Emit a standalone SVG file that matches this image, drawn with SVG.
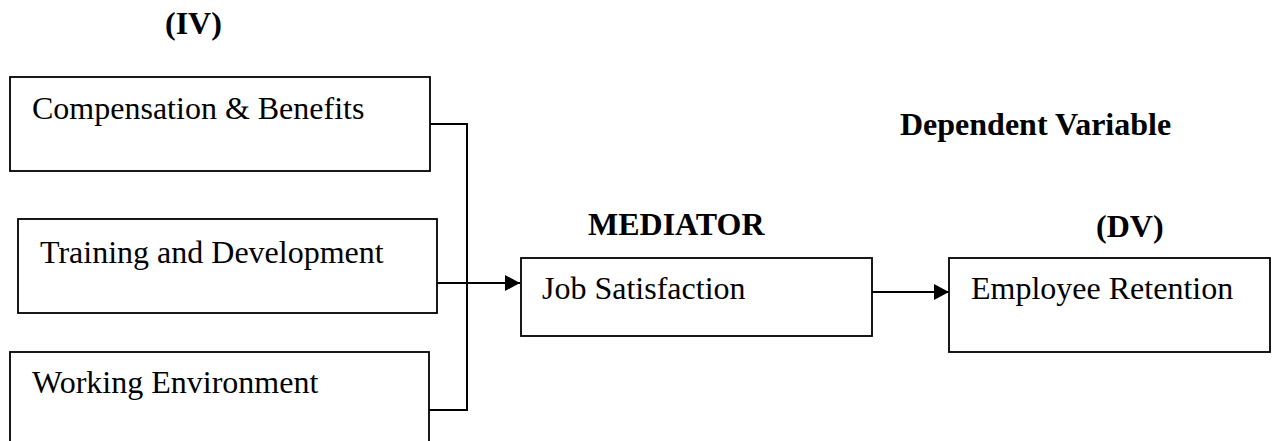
<svg xmlns="http://www.w3.org/2000/svg" width="1272" height="441" viewBox="0 0 1272 441">
<style>
.box{fill:#fff;stroke:#000;stroke-width:1.8}
.t{font-family:"Liberation Serif","Times New Roman",serif;font-size:32px;fill:#000}
.b{font-family:"Liberation Serif","Times New Roman",serif;font-size:32px;font-weight:bold;fill:#000}
.c{fill:none;stroke:#000;stroke-width:2}
</style>
<defs>
<marker id="ah" markerWidth="16" markerHeight="16" refX="15" refY="8" orient="auto" markerUnits="userSpaceOnUse">
<path d="M0,0 L15,8 L0,16 Z" fill="#000"/>
</marker>
</defs>
<rect width="1272" height="441" fill="#fff"/>
<text class="b" x="165" y="34">(IV)</text>
<text class="b" x="900" y="135">Dependent Variable</text>
<text class="b" x="588" y="235">MEDIATOR</text>
<text class="b" x="1096" y="237">(DV)</text>
<g id="n-comp">
<rect class="box" x="10" y="77" width="420" height="94"/>
<text class="t" x="32" y="119">Compensation &amp; Benefits</text>
</g>
<g id="n-train">
<rect class="box" x="18" y="219" width="419" height="94"/>
<text class="t" x="40" y="263">Training and Development</text>
</g>
<g id="n-work">
<rect class="box" x="10" y="352" width="419" height="100"/>
<text class="t" x="32" y="393">Working Environment</text>
</g>
<g id="n-js">
<rect class="box" x="521" y="258" width="351" height="78"/>
<text class="t" x="542" y="299">Job Satisfaction</text>
</g>
<g id="n-er">
<rect class="box" x="949" y="258" width="321" height="94"/>
<text class="t" x="971" y="299">Employee Retention</text>
</g>
<g id="connectors">
<polyline class="c" points="430,124 467,124 467,410 429,410"/>
<line class="c" x1="437" y1="283" x2="520" y2="283" marker-end="url(#ah)"/>
<line class="c" x1="872" y1="292" x2="949" y2="292" marker-end="url(#ah)"/>
</g>
</svg>
